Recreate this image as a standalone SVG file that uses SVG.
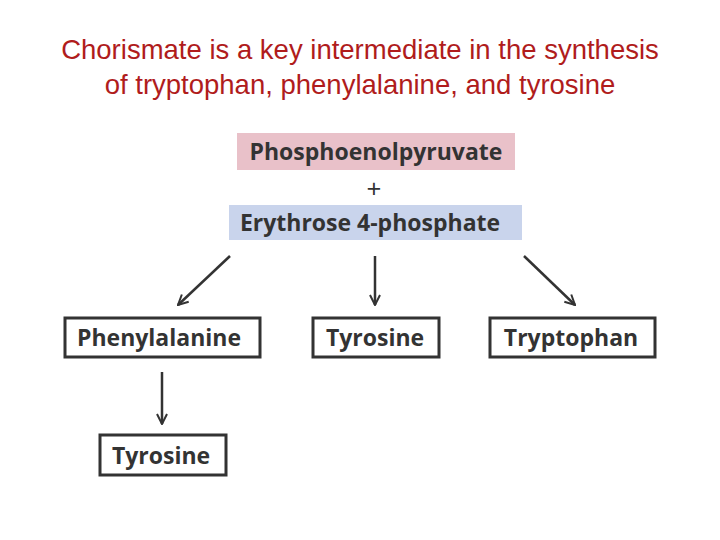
<svg xmlns="http://www.w3.org/2000/svg" width="720" height="540" viewBox="0 0 720 540">
<style>
.t{font-family:"Liberation Sans",Arial,sans-serif;font-size:27.5px;fill:#b01c1c;text-anchor:middle}
.l{font-family:"Open Sans","DejaVu Sans",sans-serif;font-weight:bold;font-size:23px;fill:#333;text-anchor:middle}
.b{fill:#fff;stroke:#333;stroke-width:3}
.c line{stroke:#333;stroke-width:2.5}
</style>
<defs><marker id="a" viewBox="0 0 10 10" refX="9" refY="5" markerWidth="5" markerHeight="5" orient="auto"><path d="M1,1L9,5L1,9" fill="none" stroke="#333" stroke-width="1.6"/></marker></defs>
<rect width="720" height="540" fill="#fff"/>
<text class="t" x="360" y="59">Chorismate is a key intermediate in the synthesis</text>
<text class="t" x="360" y="94">of tryptophan, phenylalanine, and tyrosine</text>
<g id="pep"><rect x="237" y="133" width="278" height="37" fill="#e9c1c9"/><text class="l" x="376" y="160">Phosphoenolpyruvate</text></g>
<g id="plus"><text class="l" x="374" y="198" style="font-weight:normal;font-size:26px">+</text></g>
<g id="e4p"><rect x="229" y="205" width="293" height="35" fill="#c9d4ec"/><text class="l" x="370" y="231">Erythrose 4-phosphate</text></g>
<g id="phe"><rect class="b" x="65" y="318" width="195" height="39"/><text class="l" x="159" y="346">Phenylalanine</text></g>
<g id="tyr"><rect class="b" x="313" y="318" width="126" height="39"/><text class="l" x="375" y="346">Tyrosine</text></g>
<g id="trp"><rect class="b" x="490" y="318" width="165" height="39"/><text class="l" x="571" y="346">Tryptophan</text></g>
<g id="tyr2"><rect class="b" x="100" y="435" width="126" height="40"/><text class="l" x="161" y="464">Tyrosine</text></g>
<g class="c">
<line x1="230" y1="256" x2="178" y2="305" marker-end="url(#a)"/>
<line x1="375" y1="256" x2="375" y2="305" marker-end="url(#a)"/>
<line x1="524" y1="256" x2="575" y2="305" marker-end="url(#a)"/>
<line x1="162" y1="372" x2="162" y2="424" marker-end="url(#a)"/>
</g>
</svg>
